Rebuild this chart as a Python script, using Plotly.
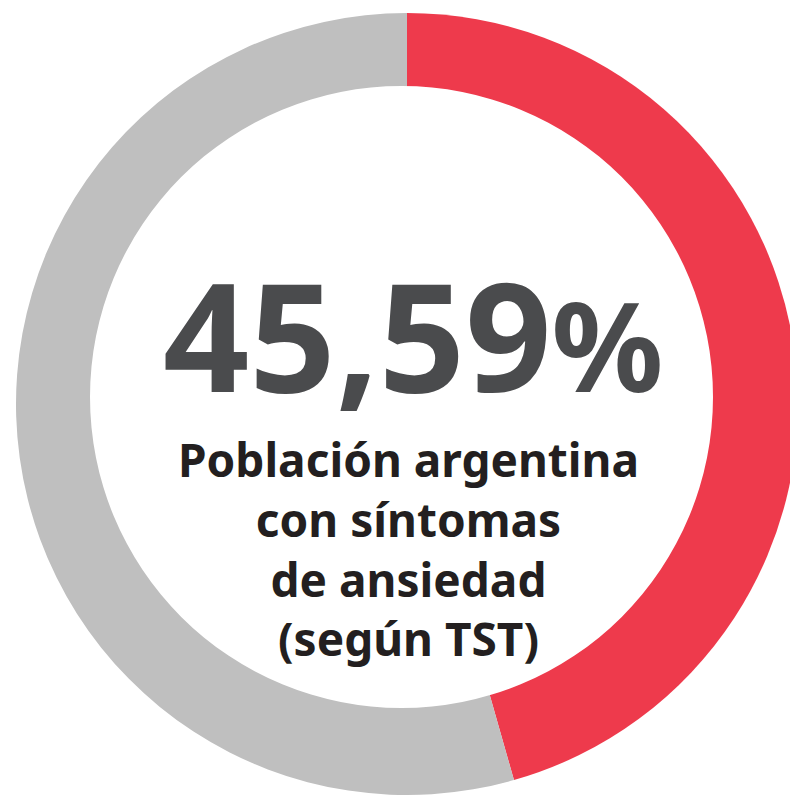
import plotly.graph_objects as go

# page body keeps an 8px default margin, so the figure starts at (8, 8)
W, H = 790, 787
OFF = 8

labels = ["Con síntomas de ansiedad", "Sin síntomas"]
values = [45.59, 54.41]
colors = ["#EE3A4C", "#BFBFBF"]

big_value = "45,59"
subtitle_lines = ["Población argentina", "con síntomas", "de ansiedad", "(según TST)"]

def px_x(x):
    return (x - OFF) / W

def px_y(y):
    return 1 - (y - OFF) / H

fig = go.Figure()
fig.add_trace(go.Pie(
    labels=labels,
    values=values,
    marker=dict(colors=colors, line=dict(width=0)),
    sort=False,
    direction="clockwise",
    rotation=0,
    hole=0,
    textinfo="none",
    hoverinfo="label+value",
    showlegend=False,
    domain=dict(x=[px_x(16), 1], y=[0, px_y(13)]),
))

# inner hole (slightly off-centre like in the reference)
fig.add_shape(type="circle", xref="paper", yref="paper",
              x0=px_x(90), x1=px_x(713), y0=px_y(708), y1=px_y(86),
              fillcolor="white", line=dict(width=0), layer="above")

fig.add_annotation(
    x=px_x(413), y=px_y(334), xref="paper", yref="paper",
    xanchor="center", yanchor="middle", showarrow=False,
    text=big_value + "<span style='font-size:124px'>%</span>",
    font=dict(family="Noto Sans", size=151, color="#4A4B4D", weight="bold"),
)

fig.add_annotation(
    x=px_x(408), y=px_y(548), xref="paper", yref="paper",
    xanchor="center", yanchor="middle", showarrow=False, align="center",
    text="<br>".join(subtitle_lines),
    font=dict(family="Noto Sans", size=46, color="#231F20", weight="bold"),
)

fig.update_layout(
    width=W, height=H,
    margin=dict(l=0, r=0, t=0, b=0),
    paper_bgcolor="white", plot_bgcolor="white",
)

fig.write_html("out.html")
